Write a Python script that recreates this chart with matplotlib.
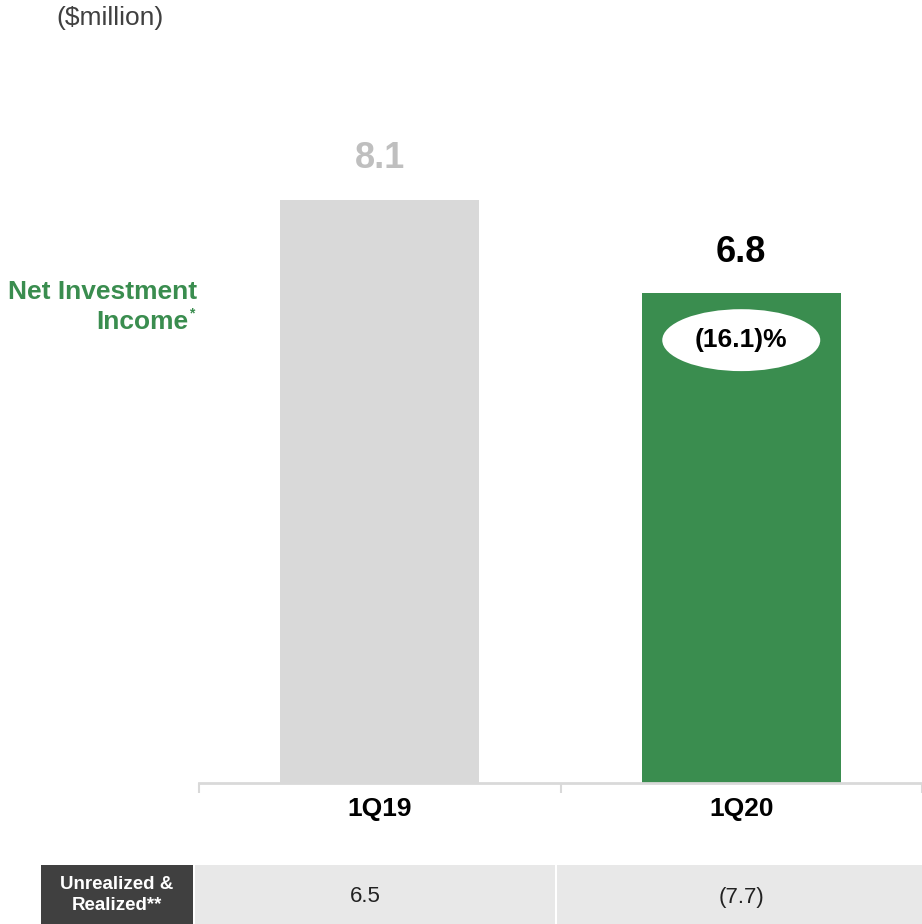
import matplotlib.pyplot as plt
from matplotlib.patches import Ellipse, Rectangle

plt.rcParams['font.family'] = ['Liberation Sans', 'DejaVu Sans']

# Quarterly net investment income ($million)
quarters = ["1Q19", "1Q20"]
nii_values = [8.1, 6.8]
value_labels = ["8.1", "6.8"]
change_label = "(16.1)%"

# Unrealized & realized gains row under the chart
gains_labels = ["6.5", "(7.7)"]

W, H = 922, 924
fig = plt.figure(figsize=(W / 100, H / 100), dpi=100)


def px_box(x0, y0, x1, y1):
    # pixel box measured from the top-left corner -> figure fraction rect
    return [x0 / W, 1 - y1 / H, (x1 - x0) / W, (y1 - y0) / H]


ax = fig.add_axes(px_box(199, 100, 922, 783))
bar_colors = ["#d9d9d9", "#3a8d4f"]
label_colors = ["#bfbfbf", "#000000"]
x = range(len(quarters))
bars = ax.bar(x, nii_values, width=0.55, color=bar_colors, zorder=2)

ax.set_xlim(-0.5, len(quarters) - 0.5)
ax.set_ylim(0, 9.485)

for b, txt, c in zip(bars, value_labels, label_colors):
    ax.annotate(txt, (b.get_x() + b.get_width() / 2, b.get_height()),
                xytext=(0, 17), textcoords="offset points",
                ha="center", va="bottom", fontsize=26, fontweight="bold",
                color=c)

# percent change badge inside the 1Q20 bar
badge_y = nii_values[1] - 0.65
ax.add_patch(Ellipse((1, badge_y), 0.437, 0.86, facecolor="white",
                     edgecolor="none", zorder=3))
ax.text(1, badge_y, change_label, ha="center", va="center", fontsize=19,
        fontweight="bold", color="#000000", zorder=4)

for side in ["top", "right", "left"]:
    ax.spines[side].set_visible(False)
ax.spines["bottom"].set_color("#d9d9d9")
ax.spines["bottom"].set_linewidth(2)
ax.set_yticks([])
ax.set_xticks([-0.5, 0.5, 1.5], minor=False)
ax.set_xticklabels([])
ax.tick_params(axis="x", length=7, width=1.5, color="#d9d9d9")
for i, q in enumerate(quarters):
    ax.text(i, -0.36, q, ha="center", va="center", fontsize=19,
            fontweight="bold", color="#000000")

fig.text(56 / W, 1 - 18 / H, "($million)", ha="left", va="center",
         fontsize=19, color="#404040")

fig.text(197 / W, 1 - 292 / H, "Net Investment", ha="right", va="center",
         fontsize=19, fontweight="bold", color="#3a8d4f")
fig.text(188 / W, 1 - 322 / H, "Income", ha="right", va="center",
         fontsize=19, fontweight="bold", color="#3a8d4f")
fig.text(189 / W, 1 - 313 / H, "*", ha="left", va="center",
         fontsize=10, fontweight="bold", color="#3a8d4f")

# gains row
fig.patches.append(Rectangle((41 / W, 0), 152 / W, 59 / H,
                             transform=fig.transFigure, facecolor="#404040",
                             edgecolor="none"))
fig.text(117 / W, 1 - 895 / H, "Unrealized &\nRealized**", ha="center",
         va="center", fontsize=13.5, fontweight="bold", color="white",
         linespacing=1.3)
cell_edges = [(195, 555), (557, 922)]
text_x = [365, 741]
for (x0, x1), tx, txt in zip(cell_edges, text_x, gains_labels):
    fig.patches.append(Rectangle((x0 / W, 0), (x1 - x0) / W, 59 / H,
                                 transform=fig.transFigure,
                                 facecolor="#e8e8e8", edgecolor="none"))
    fig.text(tx / W, 1 - 897 / H, txt, ha="center", va="center",
             fontsize=16, color="#222222")

fig.savefig("out.png", dpi=100)
